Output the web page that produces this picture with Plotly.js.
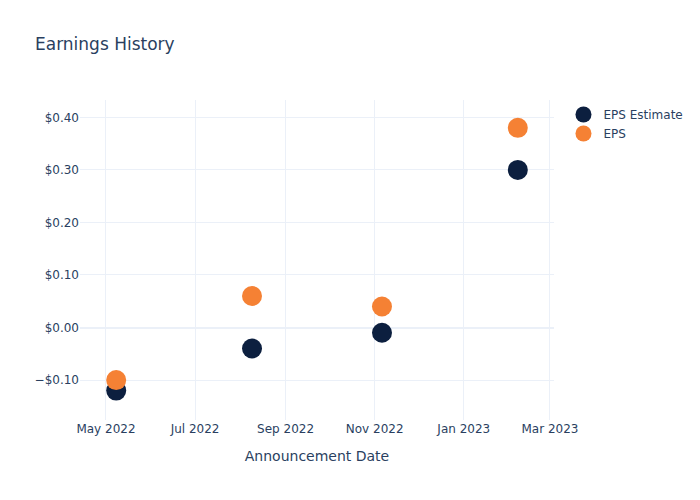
<!DOCTYPE html>
<html>
<head>
<meta charset="utf-8">
<script src="https://cdn.plot.ly/plotly-3.0.1.min.js"></script>
<style>html,body{margin:0;padding:0;background:#fff}</style>
</head>
<body>
<div id="chart" style="width:700px;height:500px"></div>
<script>
const dates = ["2022-05-08", "2022-08-09", "2022-11-06", "2023-02-07"];
const epsEstimate = [-0.12, -0.04, -0.01, 0.30];
const epsActual = [-0.10, 0.06, 0.04, 0.38];

const data = [
  {x: dates, y: epsEstimate, name: "EPS Estimate", type: "scatter", mode: "markers",
   marker: {color: "#0c1f3f", size: 20}},
  {x: dates, y: epsActual, name: "EPS", type: "scatter", mode: "markers",
   marker: {color: "#f58134", size: 20}}
];
const layout = {
  width: 700, height: 500,
  font: {family: "DejaVu Sans, sans-serif", color: "#2a3f5f", size: 12},
  title: {text: "Earnings History", x: 0.05, font: {size: 17}},
  paper_bgcolor: "#fff", plot_bgcolor: "#fff",
  xaxis: {title: {text: "Announcement Date", standoff: 16}, automargin: false, type: "date", gridcolor: "#EBF0F8", zerolinecolor: "#EBF0F8",
          tickformat: "%b %Y", dtick: "M2"},
  yaxis: {tickformat: "$.2f", gridcolor: "#EBF0F8", zerolinecolor: "#EBF0F8", zerolinewidth: 2, range: [-0.176, 0.433]},
  legend: {font: {size: 12}}
};
Plotly.newPlot("chart", data, layout, {displayModeBar: false});
</script>
</body>
</html>
